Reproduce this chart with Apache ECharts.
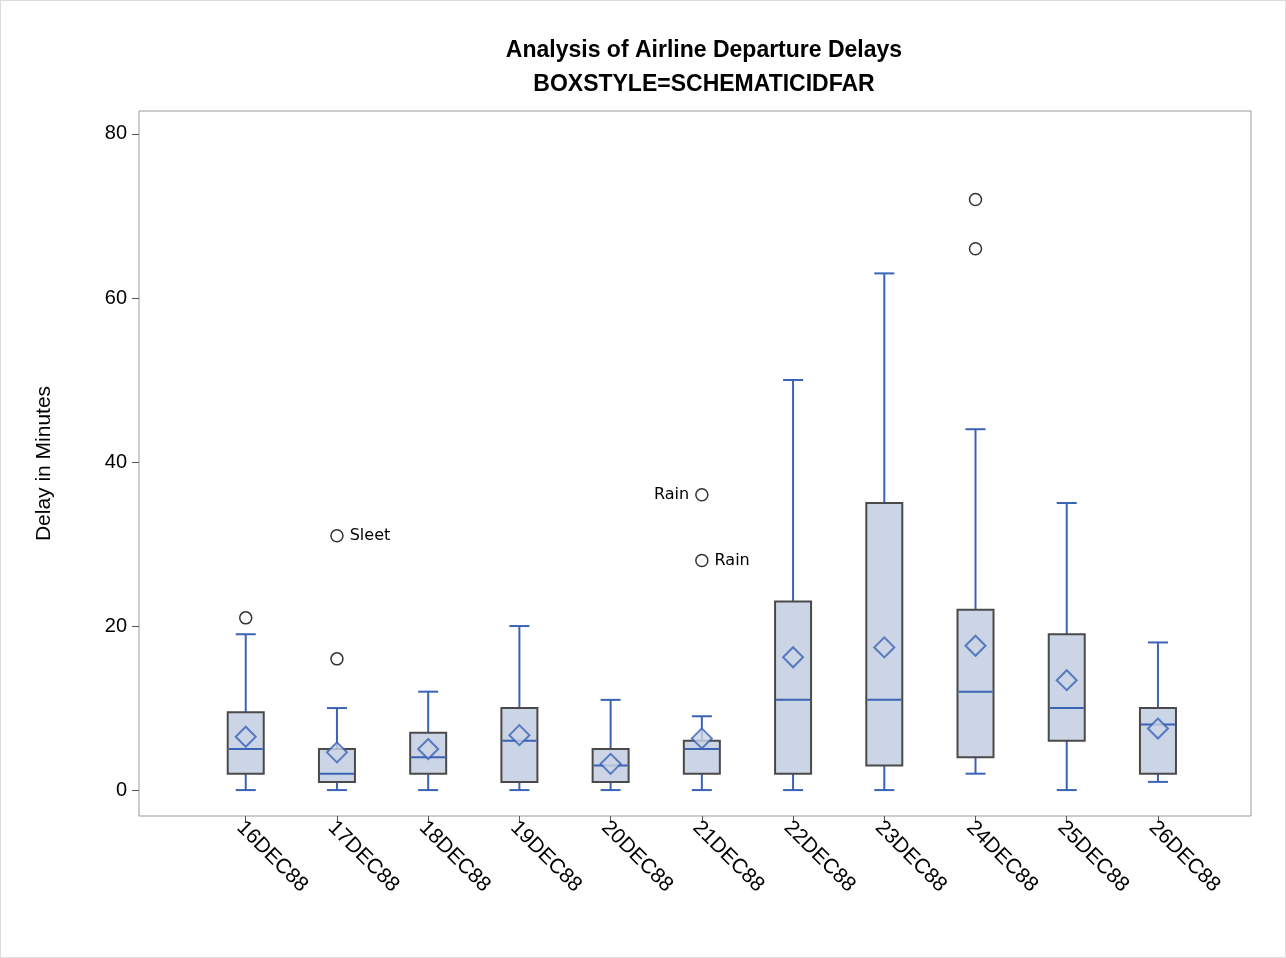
<!DOCTYPE html>
<html><head><meta charset="utf-8">
<script src="https://cdn.jsdelivr.net/npm/echarts@6/dist/echarts.min.js"></script>
<style>html,body{margin:0;padding:0;background:#fff}#c{width:1286px;height:958px;box-sizing:border-box;border:1px solid #ddd}</style>
</head><body><div id="c"></div>
<script>
const categories=['16DEC88','17DEC88','18DEC88','19DEC88','20DEC88','21DEC88','22DEC88','23DEC88','24DEC88','25DEC88','26DEC88'];
const lowWhisker=[0,0,0,0,0,0,0,0,2,0,1];
const q1=[2,1,2,1,1,2,2,3,4,6,2];
const median=[5,2,4,6,3,5,11,11,12,10,8];
const q3=[9.5,5,7,10,5,6,23,35,22,19,10];
const highWhisker=[19,10,12,20,11,9,50,63,44,35,18];
const means=[6.5,4.6,5,6.7,3.2,6.3,16.2,17.4,17.6,13.4,7.5];
const outliers=[[0,21,''],[1,16,''],[1,31,'Sleet'],[5,28,'Rain'],[5,36,'Rain'],[8,66,''],[8,72,'']];
const yTicks=[0,20,40,60,80];

const blue='#3a62b5', grey='#4a4a4a';
const boxData=categories.map((c,i)=>[i,lowWhisker[i],q1[i],median[i],q3[i],highWhisker[i]]);
const chart=echarts.init(document.getElementById('c'));
chart.setOption({
  animation:false,
  title:{text:'Analysis of Airline Departure Delays\nBOXSTYLE=SCHEMATICIDFAR',left:698,top:28,textAlign:'center',
    textStyle:{fontFamily:'Liberation Sans',fontSize:23,fontWeight:'bold',color:'#000',lineHeight:34}},
  grid:{left:138,right:34,top:110,bottom:141,show:true,borderColor:'#999',borderWidth:1,outerBoundsMode:'none',containLabel:false},
  xAxis:{type:'value',min:-1.17,max:11.02,axisLine:{show:false,onZero:false},splitLine:{show:false},
    axisTick:{show:true,customValues:categories.map((c,i)=>i),length:7,lineStyle:{color:'#555'}},
    axisLabel:{customValues:categories.map((c,i)=>i),formatter:v=>categories[Math.round(v)],rotate:-45,
      fontFamily:'Liberation Sans',fontSize:21,color:'#000',margin:14,padding:[0,0,0,-8]}},
  yAxis:{type:'value',min:-3.16,max:82.8,splitLine:{show:false},axisLine:{show:false,onZero:false},
    name:'Delay in Minutes',nameLocation:'middle',nameGap:84,nameRotate:90,
    nameTextStyle:{fontFamily:'Liberation Sans',fontSize:21,color:'#000'},
    axisTick:{show:true,customValues:yTicks,length:7,lineStyle:{color:'#555'}},
    axisLabel:{customValues:yTicks,fontFamily:'Liberation Sans',fontSize:20,color:'#000',margin:12}},
  series:[
    {type:'custom',data:boxData,encode:{x:0,y:[1,2,3,4,5]},z:2,
     renderItem:(p,api)=>{
      const x=api.value(0);
      const c=v=>api.coord([x,v]);
      const lo=c(api.value(1)),b1=c(api.value(2)),md=c(api.value(3)),b3=c(api.value(4)),hi=c(api.value(5));
      const bw=36,cw=20,X=lo[0];
      const ls={stroke:blue,lineWidth:2};
      return {type:'group',children:[
        {type:'line',shape:{x1:X,y1:lo[1],x2:X,y2:b1[1]},style:ls},
        {type:'line',shape:{x1:X,y1:b3[1],x2:X,y2:hi[1]},style:ls},
        {type:'line',shape:{x1:X-cw/2,y1:lo[1],x2:X+cw/2,y2:lo[1]},style:ls},
        {type:'line',shape:{x1:X-cw/2,y1:hi[1],x2:X+cw/2,y2:hi[1]},style:ls},
        {type:'rect',shape:{x:X-bw/2,y:b3[1],width:bw,height:b1[1]-b3[1]},style:{fill:'#cbd5e5',stroke:grey,lineWidth:2}},
        {type:'line',shape:{x1:X-bw/2+1,y1:md[1],x2:X+bw/2-1,y2:md[1]},style:ls}
      ]};
     }},
    {type:'scatter',data:means.map((m,i)=>[i,m]),symbol:'diamond',symbolSize:[20,20],z:3,
     itemStyle:{color:'#cbd5e5',borderColor:blue,borderWidth:2}},
    {type:'scatter',data:outliers.map(o=>({value:[o[0],o[1]],name:o[2],
        label:{show:!!o[2],position:(o[1]===36?'left':'right')}})),
     symbol:'circle',symbolSize:12,z:4,
     itemStyle:{color:'#ffffff',borderColor:'#333333',borderWidth:1.5,opacity:1},
     label:{formatter:p=>p.name,fontFamily:'DejaVu Sans',fontSize:16,color:'#000',distance:6}}
  ]
});
</script></body></html>
